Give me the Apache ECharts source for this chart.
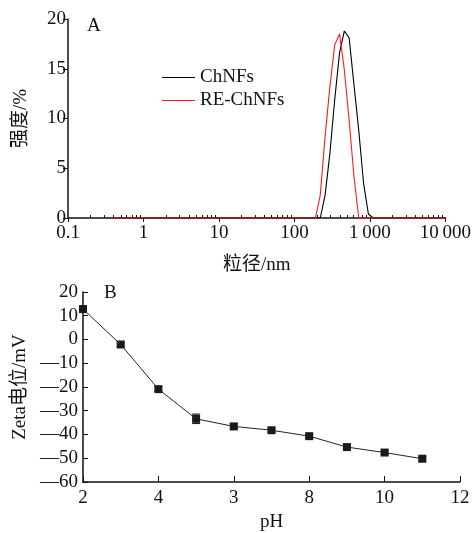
<!DOCTYPE html>
<html>
<head>
<meta charset="utf-8">
<script src="https://cdn.jsdelivr.net/npm/echarts@6/dist/echarts.min.js"></script>
<style>
  html, body { margin: 0; padding: 0; background: #fff; }
  #main { width: 474px; height: 533px; }
</style>
</head>
<body>
<div id="main"></div>
<script>
// 图A：粒径分布
var sizeBins = [0.4, 190.1, 220.2, 255.0, 295.3, 342.0, 396.1, 458.7, 531.2, 615.1, 712.4, 825.0, 955.4, 1106, 10000];
var chnfs = [0, 0, 0, 2.3, 6.5, 11.9, 16.6, 18.8, 18.1, 13.4, 8.8, 3.5, 0.4, 0, 0];
var reChnfs = [0, 0, 2.3, 8.2, 13.2, 17.4, 18.5, 14.9, 9.8, 4.2, 0, 0, 0, 0, 0];
var sizeTickLabels = ['0.1', '1', '10', '100', '1\u2009000', '10\u2009000'];

// 图B：Zeta电位
var phValues = [2, 3, 4, 5, 6, 7, 8, 9, 10, 11];
var zeta = [12.8, -2.1, -20.9, -33.4, -36.6, -38.2, -40.7, -45.3, -47.6, -50.2];
var zetaErr = [1.3, 0.8, 1.0, 2.0, 1.2, 0.8, 0.8, 0.8, 0.8, 0.8];
var phTickLabels = ['2', '4', '3', '8', '10', '12'];

var FONT = '"Liberation Serif", "Noto Sans CJK SC", serif';
var INK = '#111';
var FS = 19;

// 对数轴次刻度 2..9
var minorTicks = [];
for (var d = 0.1; d < 10000; d *= 10) {
  for (var k = 2; k <= 9; k++) minorTicks.push(+(d * k).toPrecision(3));
}

function pairs(xs, ys) {
  return xs.map(function (x, i) { return [x, ys[i]]; });
}

var chart = echarts.init(document.getElementById('main'));

var option = {
  animation: false,
  textStyle: { fontFamily: FONT, color: INK },
  grid: [
    { left: 68, top: 19, width: 379, height: 199 },
    { left: 83, top: 292, width: 377, height: 193 }
  ],
  legend: {
    data: ['ChNFs', 'RE-ChNFs'],
    orient: 'vertical',
    left: 157,
    top: 63,
    icon: 'rect',
    itemWidth: 33,
    itemHeight: 1.2,
    itemGap: 4,
    textStyle: { fontFamily: FONT, fontSize: FS, color: INK }
  },
  graphic: [
    { type: 'text', left: 87, top: 17, style: { text: 'A', font: FS + 'px ' + FONT, fill: INK } },
    { type: 'text', left: 104, top: 284, style: { text: 'B', font: FS + 'px ' + FONT, fill: INK } }
  ],
  xAxis: [
    {
      type: 'log', logBase: 10, gridIndex: 0, min: 0.1, max: 10000, position: 'bottom',
      name: '粒径/nm', nameLocation: 'middle', nameGap: 38,
      nameTextStyle: { fontFamily: FONT, fontSize: FS, color: INK },
      axisLine: { onZero: false, lineStyle: { color: INK, width: 1.5 } },
      axisTick: { length: 4, lineStyle: { color: INK } },
      axisLabel: {
        fontFamily: FONT, fontSize: FS, color: INK, margin: 6,
        formatter: function (v) { return sizeTickLabels[Math.round(Math.log10(v)) + 1]; }
      },
      splitLine: { show: false }
    },
    {
      type: 'log', logBase: 10, gridIndex: 0, min: 0.1, max: 10000, position: 'bottom',
      axisLine: { show: false, onZero: false },
      axisLabel: { show: false },
      axisTick: { inside: true, length: 3, customValues: minorTicks, lineStyle: { color: INK } },
      splitLine: { show: false }
    },
    {
      type: 'value', gridIndex: 1, min: 2, max: 12, interval: 2, position: 'bottom',
      name: 'pH', nameLocation: 'middle', nameGap: 31,
      nameTextStyle: { fontFamily: FONT, fontSize: FS, color: INK },
      axisLine: { onZero: false, lineStyle: { color: INK, width: 1.5 } },
      axisTick: { inside: true, length: 6, lineStyle: { color: INK } },
      axisLabel: {
        fontFamily: FONT, fontSize: FS, color: INK, margin: 7,
        formatter: function (v) { return phTickLabels[Math.round((v - 2) / 2)]; }
      },
      splitLine: { show: false }
    }
  ],
  yAxis: [
    {
      type: 'value', gridIndex: 0, min: 0, max: 20, interval: 5,
      name: '强度/%', nameLocation: 'middle', nameGap: 37,
      nameTextStyle: { fontFamily: FONT, fontSize: FS, color: INK },
      axisLine: { show: true, onZero: false, lineStyle: { color: INK, width: 1.5 } },
      axisTick: { show: true, length: 5, lineStyle: { color: INK } },
      axisLabel: { fontFamily: FONT, fontSize: FS, color: INK, margin: 2 },
      splitLine: { show: false }
    },
    {
      type: 'value', gridIndex: 1, min: -60, max: 20, interval: 10,
      name: 'Zeta电位/mV', nameLocation: 'middle', nameGap: 45,
      nameTextStyle: { fontFamily: FONT, fontSize: FS, color: INK },
      axisLine: { show: true, onZero: false, lineStyle: { color: INK, width: 1.5 } },
      axisTick: { show: true, inside: true, length: 5, lineStyle: { color: INK } },
      axisLabel: {
        fontFamily: FONT, fontSize: FS, color: INK, margin: 5,
        formatter: function (v) { return v < 0 ? '\u2014' + (-v) : String(v); }
      },
      splitLine: { show: false }
    }
  ],
  series: [
    {
      name: 'ChNFs', type: 'line', xAxisIndex: 0, yAxisIndex: 0,
      data: pairs(sizeBins, chnfs), symbol: 'none',
      lineStyle: { color: '#000', width: 1.1 }, itemStyle: { color: '#000' }
    },
    {
      name: 'RE-ChNFs', type: 'line', xAxisIndex: 0, yAxisIndex: 0,
      data: pairs(sizeBins, reChnfs), symbol: 'none',
      lineStyle: { color: '#ff1a1a', width: 1.1 }, itemStyle: { color: '#ff1a1a' }
    },
    {
      name: 'err', type: 'custom', xAxisIndex: 2, yAxisIndex: 1,
      data: phValues.map(function (p, i) { return [p, zeta[i] - zetaErr[i], zeta[i] + zetaErr[i]]; }),
      renderItem: function (params, api) {
        var lo = api.coord([api.value(0), api.value(1)]);
        var hi = api.coord([api.value(0), api.value(2)]);
        var w = 4;
        var st = { stroke: INK, lineWidth: 1 };
        return {
          type: 'group',
          children: [
            { type: 'line', shape: { x1: lo[0], y1: lo[1], x2: hi[0], y2: hi[1] }, style: st },
            { type: 'line', shape: { x1: lo[0] - w, y1: lo[1], x2: lo[0] + w, y2: lo[1] }, style: st },
            { type: 'line', shape: { x1: hi[0] - w, y1: hi[1], x2: hi[0] + w, y2: hi[1] }, style: st }
          ]
        };
      },
      z: 1
    },
    {
      name: 'zeta', type: 'line', xAxisIndex: 2, yAxisIndex: 1,
      data: pairs(phValues, zeta), symbol: 'rect', symbolSize: 8,
      lineStyle: { color: '#222', width: 1 }, itemStyle: { color: '#1a1a1a' },
      z: 3
    }
  ]
};

chart.setOption(option);
</script>
</body>
</html>
